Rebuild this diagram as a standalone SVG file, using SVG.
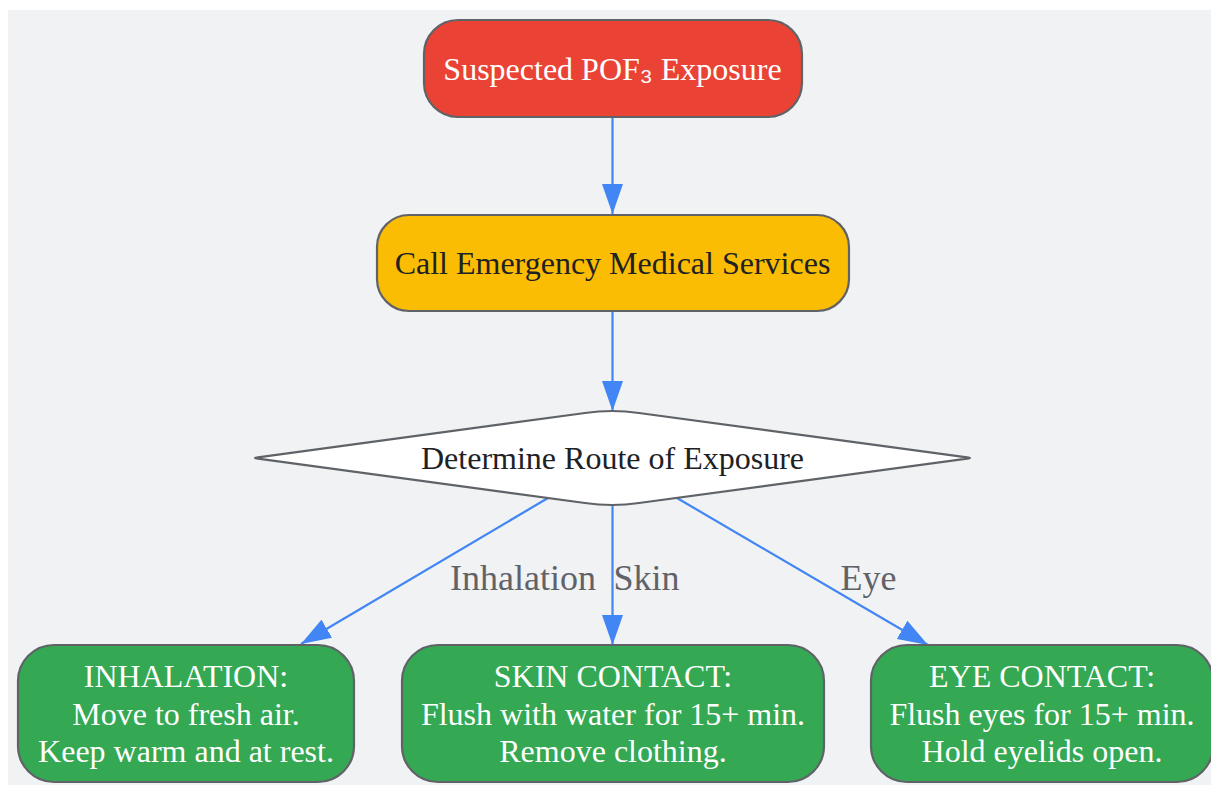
<svg xmlns="http://www.w3.org/2000/svg" width="1211" height="786" viewBox="0 0 1211 786">
<style>
.node{stroke:#5f6368;stroke-width:2.2}
.t{font-family:"Liberation Serif","Times New Roman",serif;font-size:32px;text-anchor:middle}
.w{fill:#ffffff}
.d{fill:#202124}
.lbl{font-family:"Liberation Serif","Times New Roman",serif;font-size:36px;fill:#5f6368;text-anchor:middle}
.edge{stroke:#4285f4;stroke-width:2.2;fill:none}
.sub{font-family:"Noto Sans CJK JP",sans-serif}
</style>
<defs>
<marker id="arr" markerUnits="userSpaceOnUse" markerWidth="31" markerHeight="22" viewBox="0 0 31 22" refX="30" refY="11" orient="auto">
<path d="M0,0.5 L30,11 L0,21.5 Z" fill="#4285f4"/>
</marker>
</defs>
<rect x="0" y="0" width="1211" height="786" fill="#ffffff"/>
<rect x="8" y="10" width="1210" height="775" fill="#f1f2f4"/>
<g id="connectors">
<line class="edge" x1="612.5" y1="117" x2="612.5" y2="214" marker-end="url(#arr)"/>
<line class="edge" x1="612.5" y1="311" x2="612.5" y2="411" marker-end="url(#arr)"/>
<line class="edge" x1="548" y1="498" x2="301" y2="644" marker-end="url(#arr)"/>
<line class="edge" x1="612.5" y1="506" x2="612.5" y2="645" marker-end="url(#arr)"/>
<line class="edge" x1="677" y1="498" x2="928" y2="645" marker-end="url(#arr)"/>
<text class="lbl" x="523" y="590">Inhalation</text>
<text class="lbl" x="646.5" y="590">Skin</text>
<text class="lbl" x="868.5" y="590">Eye</text>
</g>
<g id="n-start">
<rect class="node" x="424" y="20" width="378" height="97" rx="34" fill="#ea4335"/>
<text class="t w" x="612.5" y="80">Suspected POF<tspan class="sub">₃</tspan> Exposure</text>
</g>
<g id="n-call">
<rect class="node" x="377" y="215" width="472" height="96" rx="32" fill="#fbbc04"/>
<text class="t d" x="612.5" y="274">Call Emergency Medical Services</text>
</g>
<g id="n-route">
<path class="node" fill="#ffffff" d="M258 457.3 L585 413 Q612 409 639 413 L967 457.3 Q973 458 967 458.7 L639 503 Q612 507 585 503 L258 458.7 Q252 458 258 457.3 Z"/>
<text class="t d" x="612.5" y="469">Determine Route of Exposure</text>
</g>
<g id="n-inhalation">
<rect class="node" x="18" y="645" width="336" height="137" rx="36" fill="#34a853"/>
<text class="t w" x="186" y="687">INHALATION:</text>
<text class="t w" x="186" y="725">Move to fresh air.</text>
<text class="t w" x="186" y="762">Keep warm and at rest.</text>
</g>
<g id="n-skin">
<rect class="node" x="402" y="645" width="422" height="137" rx="36" fill="#34a853"/>
<text class="t w" x="613" y="687">SKIN CONTACT:</text>
<text class="t w" x="613" y="725">Flush with water for 15+ min.</text>
<text class="t w" x="613" y="762">Remove clothing.</text>
</g>
<g id="n-eye">
<rect class="node" x="871" y="645" width="342" height="137" rx="36" fill="#34a853"/>
<text class="t w" x="1042" y="687">EYE CONTACT:</text>
<text class="t w" x="1042" y="725">Flush eyes for 15+ min.</text>
<text class="t w" x="1042" y="762">Hold eyelids open.</text>
</g>
</svg>
